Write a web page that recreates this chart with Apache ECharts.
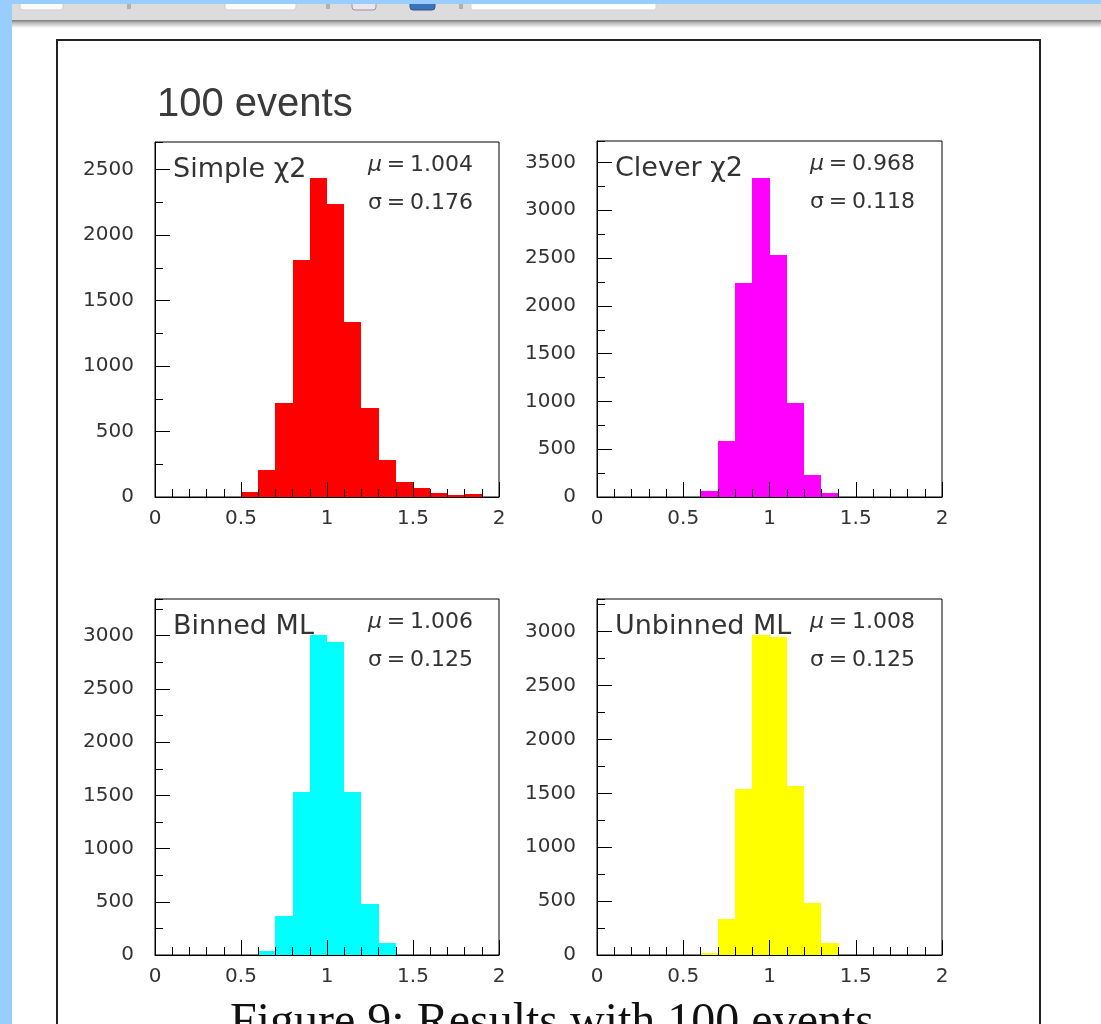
<!DOCTYPE html>
<html><head><meta charset="utf-8">
<script src="https://cdn.jsdelivr.net/npm/echarts@6/dist/echarts.min.js"></script>
<style>html,body{margin:0;padding:0;background:#fff;overflow:hidden}#chart{width:1101px;height:1024px}</style>
</head><body><div id="chart"></div>
<script>
// ---- data ----
const binEdges = [0.0,0.1,0.2,0.3,0.4,0.5,0.6,0.7,0.8,0.9,1.0,1.1,1.2,1.3,1.4,1.5,1.6,1.7,1.8,1.9,2.0];
const simpleChi2 = [0,0,0,0,0,40,206,715,1808,2436,2235,1335,679,282,117,66,28,15,20,0];
const cleverChi2 = [0,0,0,0,0,0,66,582,2238,3343,2527,983,233,42,0,0,0,0,0,0];
const binnedML   = [0,0,0,0,0,0,38,366,1534,3006,2944,1534,476,116,0,0,0,0,0,0];
const unbinnedML = [0,0,0,0,0,0,21,334,1537,2969,2953,1565,485,114,0,0,0,0,0,0];
const panelNames = ['Simple \u03c72', 'Clever \u03c72', 'Binned ML', 'Unbinned ML'];
const muValues = ['1.004', '0.968', '1.006', '1.008'];
const sigmaValues = ['0.176', '0.118', '0.125', '0.125'];
const yAxisMax = [2710, 3725, 3345, 3303];
const xTickLabels = ['0', '0.5', '1', '1.5', '2'];
const titleText = '100 events';
const captionText = 'Figure 9: Results with 100 events';

// ---- layout / style ----
const panelValues = [simpleChi2, cleverChi2, binnedML, unbinnedML];
const colors = ['#ff0000', '#ff00ff', '#00ffff', '#ffff00'];
const boxes = [
  {left:155, top:142, width:344, height:355},
  {left:597, top:141, width:345, height:356},
  {left:155, top:599, width:344, height:356},
  {left:597, top:599, width:345, height:356}
];
const FONT = 'DejaVu Sans';
const grids = [], xAxes = [], yAxes = [], series = [];
boxes.forEach((b, i) => {
  grids.push({left:b.left, top:b.top, width:b.width, height:b.height, show:true,
    borderColor:'#000', borderWidth:1, backgroundColor:'transparent', containLabel:false});
  xAxes.push({type:'value', gridIndex:i, min:0, max:2, interval:0.5, position:'bottom', z:3,
    axisLine:{show:true, onZero:false, lineStyle:{color:'#000', width:1}},
    axisTick:{show:true, inside:true, length:15, lineStyle:{color:'#000', width:1}},
    axisLabel:{margin:12, color:'#333', fontFamily:FONT, fontSize:20,
      formatter: v => { const k = Math.round(v / 0.5); return xTickLabels[k] !== undefined ? xTickLabels[k] : String(v); }},
    splitLine:{show:false}});
  xAxes.push({type:'value', gridIndex:i, min:0, max:2, interval:0.1, position:'bottom', z:3,
    axisLine:{show:false}, axisTick:{show:true, inside:true, length:8, lineStyle:{color:'#000', width:1}},
    axisLabel:{show:false}, splitLine:{show:false}});
  yAxes.push({type:'value', gridIndex:i, min:0, max:yAxisMax[i], interval:500, position:'left', z:3,
    axisLine:{show:true, onZero:false, lineStyle:{color:'#000', width:1}},
    axisTick:{show:true, inside:true, length:15, lineStyle:{color:'#000', width:1}},
    axisLabel:{margin:21, color:'#333', fontFamily:FONT, fontSize:20, showMaxLabel:false,
      padding:[4, 0, 0, 0], formatter: v => String(v)},
    splitLine:{show:false}});
  yAxes.push({type:'value', gridIndex:i, min:0, max:yAxisMax[i], interval:250, position:'left', z:3,
    axisLine:{show:false}, axisTick:{show:true, inside:true, length:8, lineStyle:{color:'#000', width:1}},
    axisLabel:{show:false}, splitLine:{show:false}});
  const vals = panelValues[i];
  const data = [];
  vals.forEach((v, k) => { if (v > 0) data.push([binEdges[k], binEdges[k + 1], v]); });
  series.push({type:'custom', xAxisIndex:2 * i, yAxisIndex:2 * i, z:2, silent:true,
    data: data, encode:{x:[0, 1], y:2},
    renderItem: (params, api) => {
      const p0 = api.coord([api.value(0), api.value(2)]);
      const p1 = api.coord([api.value(1), 0]);
      const x0 = Math.round(p0[0]), x1 = Math.round(p1[0]);
      const y0 = Math.round(p0[1]), y1 = p1[1];
      return {type:'rect', shape:{x:x0, y:y0, width:x1 - x0, height:y1 - y0},
        style:{fill:colors[i]}};
    }});
});

const graphics = [
  {type:'rect', silent:true, z:0, shape:{x:0, y:0, width:1101, height:21}, style:{fill:'#dcdcdc'}},
  {type:'rect', silent:true, z:0, shape:{x:0, y:20, width:1101, height:8},
    style:{fill:new echarts.graphic.LinearGradient(0, 0, 0, 1, [{offset:0, color:'#7a7a7a'}, {offset:0.35, color:'#b8b8b8'}, {offset:1, color:'#ffffff'}])}},
  {type:'rect', silent:true, z:1, shape:{x:20, y:1, width:43, height:9, r:3}, style:{fill:'#fbfbfb', stroke:'#cfcfcf'}},
  {type:'rect', silent:true, z:1, shape:{x:225, y:1, width:71, height:9, r:3}, style:{fill:'#fbfbfb', stroke:'#cfcfcf'}},
  {type:'rect', silent:true, z:1, shape:{x:352, y:1, width:24, height:9, r:3}, style:{fill:'#ebe6ee', stroke:'#9b90a3'}},
  {type:'rect', silent:true, z:1, shape:{x:410, y:1, width:25, height:9, r:3}, style:{fill:'#3b72b8', stroke:'#2c5790'}},
  {type:'rect', silent:true, z:1, shape:{x:471, y:1, width:185, height:9, r:2}, style:{fill:'#ffffff', stroke:'#d3d3d3'}},
  {type:'rect', silent:true, z:1, shape:{x:127, y:4, width:4, height:5}, style:{fill:'#b0b0b0'}},
  {type:'rect', silent:true, z:1, shape:{x:326, y:4, width:4, height:5}, style:{fill:'#b0b0b0'}},
  {type:'rect', silent:true, z:1, shape:{x:459, y:4, width:4, height:5}, style:{fill:'#b0b0b0'}},
  {type:'rect', silent:true, z:2, shape:{x:0, y:0, width:1101, height:4}, style:{fill:'#99ccff'}},
  {type:'rect', silent:true, z:2, shape:{x:0, y:0, width:12, height:1024}, style:{fill:'#99ccff'}},
  {type:'rect', silent:true, z:1, shape:{x:57, y:40, width:983, height:1010}, style:{fill:'none', stroke:'#222', lineWidth:2}},
  {type:'text', silent:true, z:5, x:157, y:105, style:{text:titleText, font:'40px "Liberation Sans"', fill:'#3a3a3a', verticalAlign:'middle'}},
  {type:'text', silent:true, z:5, x:230, y:1023, style:{text:captionText, font:'48px "Liberation Serif"', fill:'#111', verticalAlign:'middle'}}
];
boxes.forEach((b, i) => {
  graphics.push({type:'text', silent:true, z:5, x:b.left + 18, y:b.top + 27.5,
    style:{text:panelNames[i], font:'27px "DejaVu Sans"', fill:'#333', verticalAlign:'middle'}});
  const rich = {m:{fontStyle:'italic', fontSize:22, fontFamily:FONT, fill:'#333'},
                e:{fontSize:22, fontFamily:FONT, width:28, align:'center', fill:'#333'},
                v:{fontSize:22, fontFamily:FONT, fill:'#333'}};
  graphics.push({type:'text', silent:true, z:5, x:b.left + 213, y:b.top + 23.5,
    style:{text:'{m|\u03bc}{e|=}{v|' + muValues[i] + '}', rich:rich, fill:'#333', verticalAlign:'middle'}});
  graphics.push({type:'text', silent:true, z:5, x:b.left + 213, y:b.top + 61.5,
    style:{text:'{v|\u03c3}{e|=}{v|' + sigmaValues[i] + '}', rich:rich, fill:'#333', verticalAlign:'middle'}});
});

const chart = echarts.init(document.getElementById('chart'), null, {renderer:'canvas'});
chart.setOption({
  backgroundColor:'#ffffff',
  animation:false,
  grid:grids, xAxis:xAxes, yAxis:yAxes, series:series,
  graphic:graphics
});
</script></body></html>
